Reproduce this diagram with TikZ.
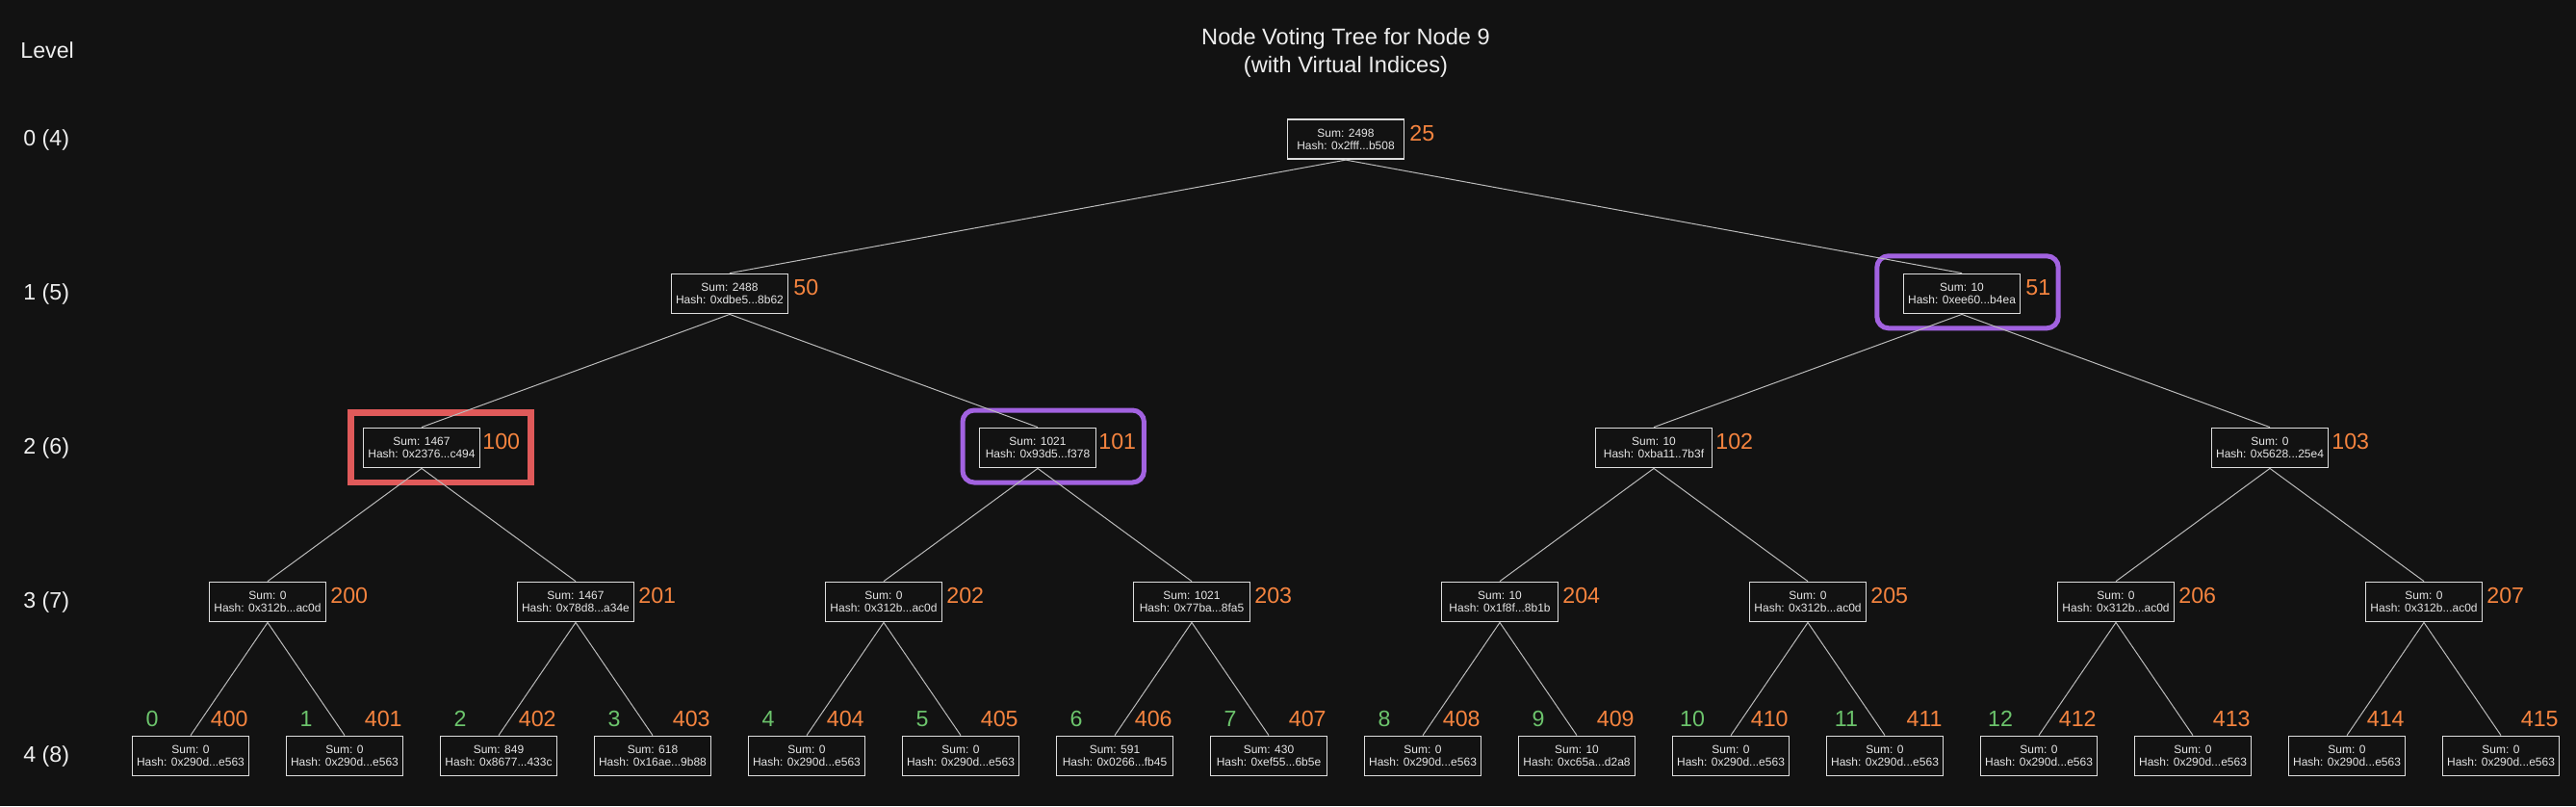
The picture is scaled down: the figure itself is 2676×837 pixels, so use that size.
\documentclass[tikz,border=0pt]{standalone}
\usepackage{fontspec}
\setmainfont{Liberation Sans}
\usetikzlibrary{calc}
\definecolor{bg}{HTML}{121212}
\definecolor{boxline}{HTML}{DDDDDD}
\definecolor{boxtext}{HTML}{E6E6E6}
\definecolor{edgecol}{HTML}{BBBBBB}
\definecolor{idxorange}{HTML}{F5843F}
\definecolor{idxgreen}{HTML}{6CC46C}
\definecolor{hlpurple}{HTML}{A262E0}
\definecolor{hlred}{HTML}{E05A5A}
\definecolor{maintext}{HTML}{EEEEEE}
\newcommand{\bigfont}{\fontsize{11.6}{13}\selectfont}
\begin{document}
\begin{tikzpicture}[x=0.5pt,y=-0.5pt,
  tnode/.style={draw=boxline, line width=0.9pt, fill=bg, text=boxtext, minimum width=60.5pt, minimum height=20.5pt, inner sep=0pt, align=center, font=\fontsize{6}{6.65}\selectfont},
  vidx/.style={text=idxorange, font=\bigfont, inner sep=0pt, anchor=base west},
  lidx/.style={text=idxorange, font=\bigfont, inner sep=0pt, anchor=base east},
  gidx/.style={text=idxgreen, font=\bigfont, inner sep=0pt, anchor=base},
  lvl/.style={text=maintext, font=\bigfont, inner sep=0pt, anchor=base west},
  ttl/.style={text=maintext, font=\fontsize{11.8}{13}\selectfont, inner sep=0pt, anchor=base},
  treeedge/.style={draw=edgecol, line width=0.5pt},
  redframe/.style={draw=hlred, line width=3.25pt, minimum width=93.4pt, minimum height=36.4pt, inner sep=0pt},
  purpleframe/.style={draw=hlpurple, line width=2.5pt, rounded corners=6pt, minimum width=94.2pt, minimum height=37.5pt, inner sep=0pt},
]
\fill[bg] (0,0) rectangle (2676,837);
\useasboundingbox (0,0) rectangle (2676,837);

% title
\node[ttl] (title1) at (1398,46.5) {Node Voting Tree for Node 9};
\node[ttl] (title2) at (1398,75) {(with Virtual Indices)};

% level labels
\node[lvl] (lvlhead) at (21,60) {Level};
\node[lvl] (lvl0) at (24,151) {0 (4)};
\node[lvl] (lvl1) at (24,311) {1 (5)};
\node[lvl] (lvl2) at (24,471) {2 (6)};
\node[lvl] (lvl3) at (24,631) {3 (7)};
\node[lvl] (lvl4) at (24,791) {4 (8)};

% level 0
\node[tnode] (n25) at (1398,144.7) {Sum: 2498\\Hash: 0x2fff...b508};
% level 1
\node[tnode] (n50) at (758,305) {Sum: 2488\\Hash: 0xdbe5...8b62};
\node[tnode] (n51) at (2038,305) {Sum: 10\\Hash: 0xee60...b4ea};
% level 2
\node[tnode] (n100) at (438,465) {Sum: 1467\\Hash: 0x2376...c494};
\node[tnode] (n101) at (1078,465) {Sum: 1021\\Hash: 0x93d5...f378};
\node[tnode] (n102) at (1718,465) {Sum: 10\\Hash: 0xba11..7b3f};
\node[tnode] (n103) at (2358,465) {Sum: 0\\Hash: 0x5628...25e4};
% level 3
\node[tnode] (n200) at (278,625) {Sum: 0\\Hash: 0x312b...ac0d};
\node[tnode] (n201) at (598,625) {Sum: 1467\\Hash: 0x78d8...a34e};
\node[tnode] (n202) at (918,625) {Sum: 0\\Hash: 0x312b...ac0d};
\node[tnode] (n203) at (1238,625) {Sum: 1021\\Hash: 0x77ba...8fa5};
\node[tnode] (n204) at (1558,625) {Sum: 10\\Hash: 0x1f8f...8b1b};
\node[tnode] (n205) at (1878,625) {Sum: 0\\Hash: 0x312b...ac0d};
\node[tnode] (n206) at (2198,625) {Sum: 0\\Hash: 0x312b...ac0d};
\node[tnode] (n207) at (2518,625) {Sum: 0\\Hash: 0x312b...ac0d};
% level 4
\node[tnode] (n400) at (198,785) {Sum: 0\\Hash: 0x290d...e563};
\node[tnode] (n401) at (358,785) {Sum: 0\\Hash: 0x290d...e563};
\node[tnode] (n402) at (518,785) {Sum: 849\\Hash: 0x8677...433c};
\node[tnode] (n403) at (678,785) {Sum: 618\\Hash: 0x16ae...9b88};
\node[tnode] (n404) at (838,785) {Sum: 0\\Hash: 0x290d...e563};
\node[tnode] (n405) at (998,785) {Sum: 0\\Hash: 0x290d...e563};
\node[tnode] (n406) at (1158,785) {Sum: 591\\Hash: 0x0266...fb45};
\node[tnode] (n407) at (1318,785) {Sum: 430\\Hash: 0xef55...6b5e};
\node[tnode] (n408) at (1478,785) {Sum: 0\\Hash: 0x290d...e563};
\node[tnode] (n409) at (1638,785) {Sum: 10\\Hash: 0xc65a...d2a8};
\node[tnode] (n410) at (1798,785) {Sum: 0\\Hash: 0x290d...e563};
\node[tnode] (n411) at (1958,785) {Sum: 0\\Hash: 0x290d...e563};
\node[tnode] (n412) at (2118,785) {Sum: 0\\Hash: 0x290d...e563};
\node[tnode] (n413) at (2278,785) {Sum: 0\\Hash: 0x290d...e563};
\node[tnode] (n414) at (2438,785) {Sum: 0\\Hash: 0x290d...e563};
\node[tnode] (n415) at (2598,785) {Sum: 0\\Hash: 0x290d...e563};

% virtual indices of internal nodes
\node[vidx] (v25) at ($(n25)+(66,1.5)$) {25};
\node[vidx] (v50) at ($(n50)+(66,1.5)$) {50};
\node[vidx] (v51) at ($(n51)+(66,1.5)$) {51};
\node[vidx] (v100) at ($(n100)+(63,1.5)$) {100};
\node[vidx] (v101) at ($(n101)+(63,1.5)$) {101};
\node[vidx] (v102) at ($(n102)+(64,1.5)$) {102};
\node[vidx] (v103) at ($(n103)+(64,1.5)$) {103};
\node[vidx] (v200) at ($(n200)+(65,1.5)$) {200};
\node[vidx] (v201) at ($(n201)+(65,1.5)$) {201};
\node[vidx] (v202) at ($(n202)+(65,1.5)$) {202};
\node[vidx] (v203) at ($(n203)+(65,1.5)$) {203};
\node[vidx] (v204) at ($(n204)+(65,1.5)$) {204};
\node[vidx] (v205) at ($(n205)+(65,1.5)$) {205};
\node[vidx] (v206) at ($(n206)+(65,1.5)$) {206};
\node[vidx] (v207) at ($(n207)+(65,1.5)$) {207};

% leaf indices
\foreach \i/\v in {0/400,1/401,2/402,3/403,4/404,5/405,6/406,7/407,8/408,9/409,10/410,11/411,12/412,13/413,14/414,15/415}{
  \node[lidx] (l\v) at ($(n\v)+(60,-31)$) {\v};
}
\foreach \i/\v in {0/400,1/401,2/402,3/403,4/404,5/405,6/406,7/407,8/408,9/409,10/410,11/411,12/412}{
  \node[gidx] (g\v) at ($(n\v)+(-40,-31)$) {\i};
}

% highlight frames
\node[redframe] (f100) at ($(n100)+(19.9,-0.3)$) {};
\node[purpleframe] (f101) at ($(n101)+(16.2,-1.5)$) {};
\node[purpleframe] (f51) at ($(n51)+(6,-1.7)$) {};

% edges
\foreach \p/\c in {25/50,25/51,50/100,50/101,51/102,51/103,
  100/200,100/201,101/202,101/203,102/204,102/205,103/206,103/207,
  200/400,200/401,201/402,201/403,202/404,202/405,203/406,203/407,
  204/408,204/409,205/410,205/411,206/412,206/413,207/414,207/415}{
  \draw[treeedge] (n\p.south) -- (n\c.north);
}
\end{tikzpicture}
\end{document}
